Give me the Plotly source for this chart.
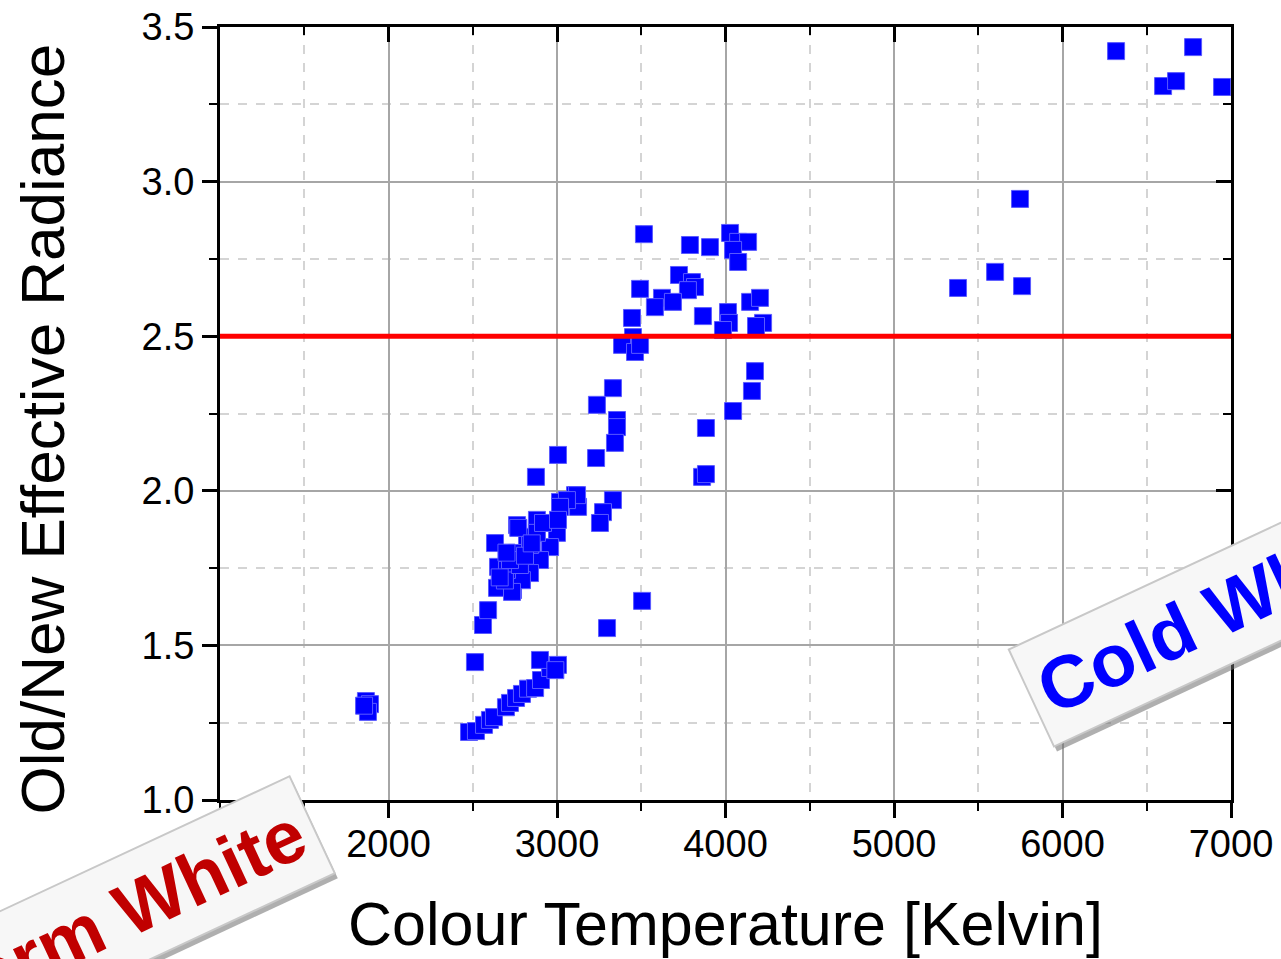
import plotly.graph_objects as go

# ---- data ----
colour_temp_k = [
    1866, 1890, 1878, 1855,
    2478, 2519, 2567, 2602, 2626, 2697, 2721, 2757, 2792, 2828, 2870, 2905, 2959, 3006, 2899, 2513, 2990,
    2561, 2591, 2644, 2650, 2632, 2763, 2881, 3018, 3107, 3125, 3000, 2959, 2899, 2840, 2739, 2792,
    2822, 2763, 2703, 2881, 2917, 2733, 2691, 2780, 2721, 2840, 2810, 2660, 2700, 2770, 2850,
    3332, 3237, 3356, 3356, 3344, 3006, 3232, 2875, 3332, 3273, 3255, 3119, 3059, 3018, 3006,
    3297, 3505,
    3516, 3789, 3908, 4027, 4075, 4134, 4045, 4075, 3724, 3801, 3819, 3777, 3493, 3623, 3581,
    3688, 3866, 4015, 4021, 3985, 4146, 4205, 4223, 4181, 3445, 3451, 3386, 3463, 3493,
    4175, 4157, 4045, 3884, 3861, 3884,
    5380, 5600, 5760, 5748, 6318, 6597, 6674, 6775, 6947,
]
radiance_ratio = [
    1.32, 1.31, 1.285, 1.305,
    1.220, 1.223, 1.243, 1.259, 1.268, 1.300, 1.314, 1.330, 1.343, 1.360, 1.362, 1.388, 1.427, 1.437, 1.453, 1.446, 1.420,
    1.566, 1.614, 1.686, 1.754, 1.831, 1.889, 1.906, 1.964, 1.986, 1.948, 1.864, 1.818, 1.776, 1.734, 1.679, 1.711,
    1.851, 1.799, 1.744, 1.864, 1.896, 1.673, 1.710, 1.760, 1.776, 1.825, 1.790, 1.720, 1.800, 1.880, 1.830,
    2.332, 2.278, 2.229, 2.206, 2.155, 2.116, 2.106, 2.045, 1.970, 1.931, 1.896, 1.986, 1.970, 1.948, 1.906,
    1.556, 1.644,
    2.830, 2.795, 2.788, 2.834, 2.805, 2.805, 2.779, 2.740, 2.698, 2.675, 2.659, 2.649, 2.653, 2.624, 2.594,
    2.611, 2.565, 2.578, 2.543, 2.520, 2.611, 2.624, 2.543, 2.533, 2.559, 2.497, 2.472, 2.449, 2.472,
    2.387, 2.323, 2.258, 2.203, 2.045, 2.054,
    2.656, 2.708, 2.662, 2.944, 3.422, 3.309, 3.325, 3.435, 3.306,
]

threshold = 2.5
x_range = [1000, 7000]
y_range = [1.0, 3.5]
x_tick_vals = [2000, 3000, 4000, 5000, 6000, 7000]
x_tick_text = ["2000", "3000", "4000", "5000", "6000", "7000"]
y_tick_vals = [1.0, 1.5, 2.0, 2.5, 3.0, 3.5]
y_tick_text = ["1.0", "1.5", "2.0", "2.5", "3.0", "3.5"]
x_title = "Colour Temperature [Kelvin]"
y_title = "Old/New Effective Radiance"
warm_label = "Warm White"
cold_label = "Cold White"

FONT = "Liberation Sans, Arial, sans-serif"

fig = go.Figure()
fig.add_trace(go.Scatter(
    x=colour_temp_k, y=radiance_ratio, mode="markers",
    marker=dict(symbol="square", size=17, color="#0000FF",
                line=dict(color="#5a5aff", width=1)),
    showlegend=False, hoverinfo="x+y",
))
# dummy trace to activate mirrored top/right axes (ticks inside)
fig.add_trace(go.Scatter(x=[None], y=[None], xaxis="x2", yaxis="y2",
                         showlegend=False, hoverinfo="skip"))

fig.add_hline(y=threshold, line=dict(color="#FF0000", width=5), layer="above")

common_axis = dict(showline=True, linecolor="black", linewidth=3, mirror=False,
                   tickwidth=3, tickcolor="black", zeroline=False, automargin=False)

fig.update_layout(
    width=1281, height=959,
    margin=dict(l=220, r=50, t=27, b=159),
    paper_bgcolor="white", plot_bgcolor="white",
    font=dict(family=FONT, color="black"),
    xaxis=dict(
        range=x_range, tickmode="array", tickvals=x_tick_vals, ticktext=x_tick_text,
        ticks="outside", ticklen=15, tickfont=dict(size=38), ticklabelstandoff=-7,
        showgrid=True, gridcolor="#a6a6a6", gridwidth=1.5,
        minor=dict(tickmode="linear", tick0=1000, dtick=500, ticks="outside", ticklen=8,
                   tickwidth=2, tickcolor="black", showgrid=True, gridcolor="#d4d4d4",
                   gridwidth=1.5, griddash="dash"),
        title=dict(text=x_title, font=dict(size=61), standoff=39),
        **common_axis,
    ),
    yaxis=dict(
        range=y_range, tickmode="array", tickvals=y_tick_vals, ticktext=y_tick_text,
        ticks="outside", ticklen=15, tickfont=dict(size=38),
        showgrid=True, gridcolor="#a6a6a6", gridwidth=1.5,
        minor=dict(tickmode="linear", tick0=1.0, dtick=0.25, ticks="outside", ticklen=8,
                   tickwidth=2, tickcolor="black", showgrid=True, gridcolor="#d4d4d4",
                   gridwidth=1.5, griddash="dash"),
        **common_axis,
    ),
    xaxis2=dict(
        range=x_range, overlaying="x", side="top", anchor="y2",
        tickmode="array", tickvals=x_tick_vals, showticklabels=False,
        ticks="inside", ticklen=15, showgrid=False,
        minor=dict(tickmode="linear", tick0=1000, dtick=500, ticks="inside", ticklen=8,
                   tickwidth=2, tickcolor="black", showgrid=False),
        **common_axis,
    ),
    yaxis2=dict(
        range=y_range, overlaying="y", side="right", anchor="x2",
        tickmode="array", tickvals=y_tick_vals, showticklabels=False,
        ticks="inside", ticklen=15, showgrid=False,
        minor=dict(tickmode="linear", tick0=1.0, dtick=0.25, ticks="inside", ticklen=8,
                   tickwidth=2, tickcolor="black", showgrid=False),
        **common_axis,
    ),
)

# y-axis title (as rotated annotation to match placement)
fig.add_annotation(text=y_title, xref="paper", yref="paper", x=0, y=0.5,
                   xanchor="center", yanchor="middle", xshift=-178, yshift=-16,
                   textangle=-90, showarrow=False, font=dict(family=FONT, size=62, color="black"))

def banner(text, color, x, y):
    base = dict(xref="paper", yref="paper", x=x, y=y, xanchor="center", yanchor="middle",
                textangle=-25, showarrow=False, borderpad=11, borderwidth=2)
    # shadow
    fig.add_annotation(text=f"<b>{text}</b>", font=dict(family=FONT, size=74, color="rgba(0,0,0,0)"),
                       bgcolor="rgba(110,110,110,0.55)", bordercolor="rgba(110,110,110,0.0)",
                       xshift=3, yshift=-5, **base)
    fig.add_annotation(text=f"<b>{text}</b>", font=dict(family=FONT, size=74, color=color),
                       bgcolor="#f7f7f7", bordercolor="#c8c8c8", **base)

banner(warm_label, "#C00000", -0.110, -0.154)
banner(cold_label, "#0000FF", 0.986, 0.2445)

fig.write_html("out.html")
